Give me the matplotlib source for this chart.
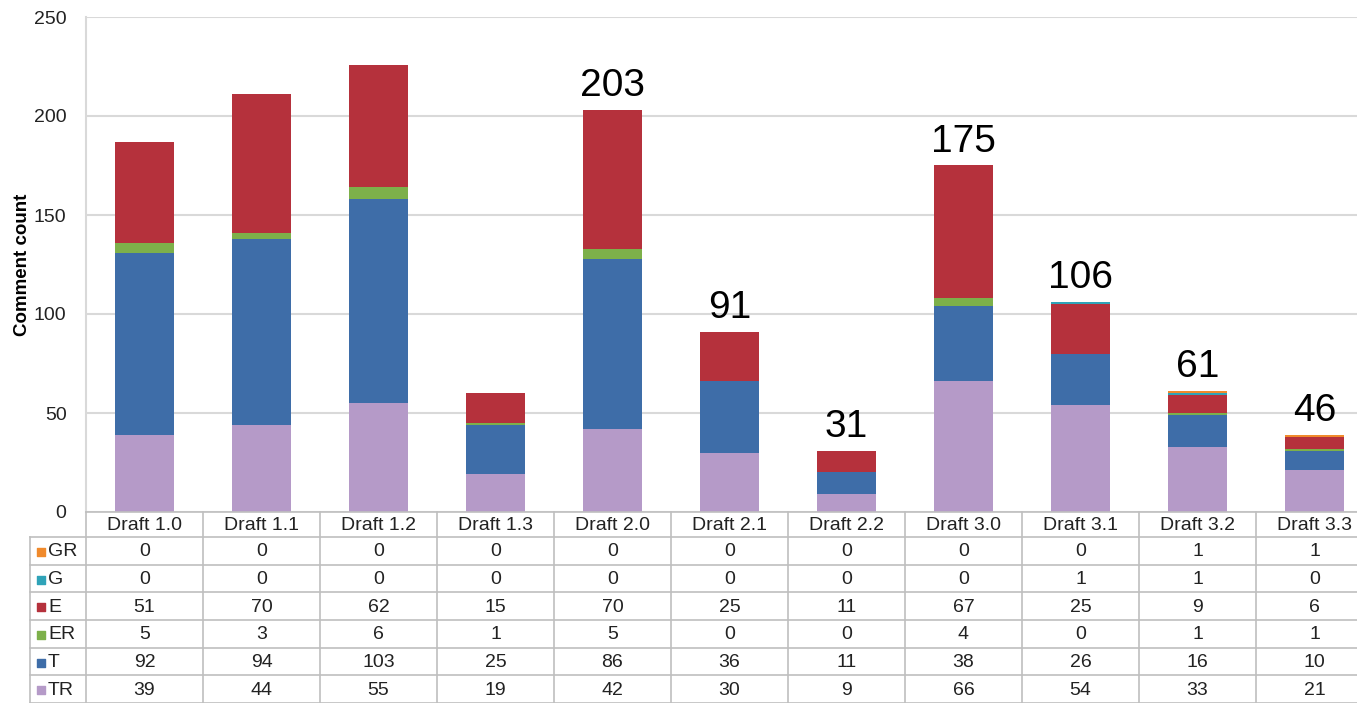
import matplotlib
matplotlib.use("Agg")
import matplotlib.pyplot as plt
import numpy as np

plt.rcParams['font.family'] = ['Liberation Sans', 'DejaVu Sans']

categories = ["Draft 1.0", "Draft 1.1", "Draft 1.2", "Draft 1.3", "Draft 2.0", "Draft 2.1",
              "Draft 2.2", "Draft 3.0", "Draft 3.1", "Draft 3.2", "Draft 3.3"]
TR = [39, 44, 55, 19, 42, 30, 9, 66, 54, 33, 21]
T = [92, 94, 103, 25, 86, 36, 11, 38, 26, 16, 10]
ER = [5, 3, 6, 1, 5, 0, 0, 4, 0, 1, 1]
E = [51, 70, 62, 15, 70, 25, 11, 67, 25, 9, 6]
G = [0, 0, 0, 0, 0, 0, 0, 0, 1, 1, 0]
GR = [0, 0, 0, 0, 0, 0, 0, 0, 0, 1, 1]
annotations = [None, None, None, None, "203", "91", "31", "175", "106", "61", "46"]

# stacking order bottom -> top
series = [("TR", TR, "#B59AC8"), ("T", T, "#3E6DA8"), ("ER", ER, "#7DB04A"),
          ("E", E, "#B5313C"), ("G", G, "#2FA3B8"), ("GR", GR, "#F08A2C")]

W, H = 1357, 703
fig = plt.figure(figsize=(W / 100, H / 100), dpi=100)
ax_left, ax_right, ax_top, ax_bot = 86, 1373, 17, 512
ax = fig.add_axes([ax_left / W, (H - ax_bot) / H, (ax_right - ax_left) / W, (ax_bot - ax_top) / H])

x = np.arange(len(categories))
bottom = np.zeros(len(categories))
for name, vals, col in series:
    v = np.array(vals, dtype=float)
    ax.bar(x, v, bottom=bottom, width=0.51, color=col, zorder=3, linewidth=0)
    bottom += v

for xi, lab, tot in zip(x, annotations, bottom):
    if lab is not None:
        ax.text(xi, tot + 3, lab, ha='center', va='bottom', fontsize=28, color='black', zorder=4)

ax.set_xlim(-0.5, len(categories) - 0.5)
ax.set_ylim(0, 250)
ax.set_yticks(np.arange(0, 251, 50))
ax.tick_params(axis='y', length=0, labelsize=14, pad=14, labelcolor='#222222')
ax.set_xticks([])
ax.grid(axis='y', color='#D9D9D9', linewidth=1.5, zorder=0)
for s in ['top', 'right', 'bottom']:
    ax.spines[s].set_visible(False)
ax.spines['left'].set_color('#D9D9D9')
ax.spines['left'].set_linewidth(1.5)
ax.set_ylabel("Comment count", fontsize=13.5, fontweight='bold', labelpad=2)

# data table below
tax = fig.add_axes([ax_left / W, 0, (ax_right - ax_left) / W, (H - ax_bot) / H])
tax.set_xlim(-0.5, len(categories) - 0.5)
header_h = 25
row_h = (H - ax_bot - header_h) / 6
tax.set_ylim(H - ax_bot, 0)
tax.axis('off')
lc = '#BFBFBF'
unit_px = (ax_right - ax_left) / len(categories)
label_left = -0.5 - (ax_left - 30) / unit_px
fs = 14

for xi, c in zip(x, categories):
    tax.text(xi, header_h / 2 + 1, c, ha='center', va='center', fontsize=fs, color='#222222')
for k in range(len(categories) + 1):
    tax.plot([k - 0.5, k - 0.5], [0, H - ax_bot], color=lc, lw=1.2, clip_on=False)
tax.plot([label_left, label_left], [header_h, H - ax_bot], color=lc, lw=1.2, clip_on=False)
tax.plot([-0.5, len(categories) - 0.5], [0, 0], color=lc, lw=1.2, clip_on=False)

rows = list(reversed(series))  # GR, G, E, ER, T, TR
for r, (name, vals, col) in enumerate(rows):
    y0 = header_h + r * row_h
    yc = y0 + row_h / 2 + 1
    tax.plot([label_left, len(categories) - 0.5], [y0, y0], color=lc, lw=1.2, clip_on=False)
    for xi, v in zip(x, vals):
        tax.text(xi, yc, str(v), ha='center', va='center', fontsize=fs, color='#222222')
    tax.scatter([label_left + 11 / unit_px], [yc], marker='s', s=38, color=col, clip_on=False)
    tax.text(label_left + 18 / unit_px, yc, name, ha='left', va='center', fontsize=fs, color='#222222')
tax.plot([label_left, len(categories) - 0.5], [H - ax_bot - 0.5, H - ax_bot - 0.5], color=lc, lw=1.2, clip_on=False)

fig.savefig("out.png", dpi=100)
